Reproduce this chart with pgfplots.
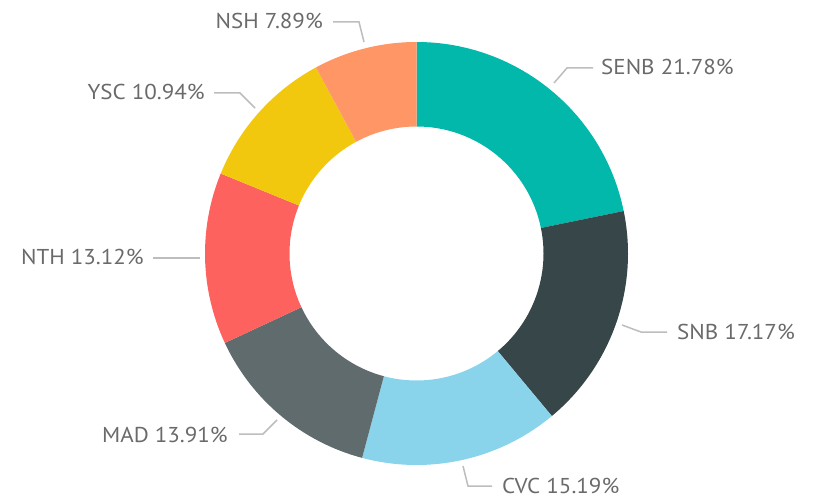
\documentclass[border=0pt]{standalone}
\usepackage{pgfplots}
\usepackage{pgfplotstable}
\usepackage{fontspec}
\setmainfont{PT Sans}[FakeStretch=1.07]
\pgfplotsset{compat=1.18}
\definecolor{c0}{HTML}{01B8AA}
\definecolor{c1}{HTML}{374649}
\definecolor{c2}{HTML}{8AD4EB}
\definecolor{c3}{HTML}{5F6B6D}
\definecolor{c4}{HTML}{FD625E}
\definecolor{c5}{HTML}{F2C80F}
\definecolor{c6}{HTML}{FE9666}
\definecolor{lbl}{HTML}{6A6A6A}
\definecolor{lead}{HTML}{BDBDBD}
\tikzset{lab/.style={font=\fontsize{21.5}{24}\selectfont, text=lbl, inner sep=0pt}}

\pgfplotstableread{
label value
SENB 21.78
SNB 17.17
CVC 15.19
MAD 13.91
NTH 13.12
YSC 10.94
NSH 7.89
}\slices

\begin{document}
\begin{tikzpicture}
\path[use as bounding box] (0,0) rectangle (826pt,499pt);
\def\cx{416.5}
\def\cy{245.5}
\def\Ro{211.5}
\def\Ri{127}
\def\cum{0}
\pgfplotsforeachungrouped \i in {0,...,6}{%
  \pgfplotstablegetelem{\i}{value}\of\slices
  \let\v\pgfplotsretval
  \pgfmathsetmacro\aS{90-3.6*\cum}%
  \pgfmathsetmacro\aE{90-3.6*(\cum+\v)}%
  \pgfmathsetmacro\cum{\cum+\v}%
  \pgfmathsetmacro\oxS{\cx+\Ro*cos(\aS)}%
  \pgfmathsetmacro\oyS{\cy+\Ro*sin(\aS)}%
  \pgfmathsetmacro\ixE{\cx+\Ri*cos(\aE)}%
  \pgfmathsetmacro\iyE{\cy+\Ri*sin(\aE)}%
  \expandafter\xdef\csname aS\i\endcsname{\aS}%
  \expandafter\xdef\csname aE\i\endcsname{\aE}%
  \expandafter\xdef\csname oxS\i\endcsname{\oxS}%
  \expandafter\xdef\csname oyS\i\endcsname{\oyS}%
  \expandafter\xdef\csname ixE\i\endcsname{\ixE}%
  \expandafter\xdef\csname iyE\i\endcsname{\iyE}%
}
\begin{axis}[at={(0pt,0pt)},anchor=south west,x=1pt,y=1pt,xmin=0,xmax=826,ymin=0,ymax=499,hide axis,clip=false]
\pgfplotsinvokeforeach{0,...,6}{
  \fill[c#1] (axis cs:\csname oxS#1\endcsname,\csname oyS#1\endcsname)
    arc[start angle=\csname aS#1\endcsname, end angle=\csname aE#1\endcsname, radius=\Ro pt]
    -- (axis cs:\csname ixE#1\endcsname,\csname iyE#1\endcsname)
    arc[start angle=\csname aE#1\endcsname, end angle=\csname aS#1\endcsname, radius=\Ri pt]
    -- cycle;
}
\begin{scope}[lead, line width=1.5pt]
\draw (axis cs:554,416) -- (axis cs:567,431) -- (axis cs:593,431);
\draw (axis cs:622,174) -- (axis cs:641,167) -- (axis cs:667,167);
\draw (axis cs:463,33) -- (axis cs:468,13) -- (axis cs:492,13);
\draw (axis cs:277,79) -- (axis cs:263,65) -- (axis cs:239,65);
\draw (axis cs:200,241) -- (axis cs:153,241);
\draw (axis cs:255,391) -- (axis cs:240,406) -- (axis cs:214,406);
\draw (axis cs:364,457) -- (axis cs:359,477) -- (axis cs:333,477);
\end{scope}
\node[lab,anchor=base west] at (axis cs:601,424.5) {SENB 21.78\%};
\node[lab,anchor=base west] at (axis cs:677,160) {SNB 17.17\%};
\node[lab,anchor=base west] at (axis cs:502,6) {CVC 15.19\%};
\node[lab,anchor=base east] at (axis cs:228,56.3) {MAD 13.91\%};
\node[lab,anchor=base east] at (axis cs:144,235) {NTH 13.12\%};
\node[lab,anchor=base east] at (axis cs:205,399) {YSC 10.94\%};
\node[lab,anchor=base east] at (axis cs:323,470.7) {NSH 7.89\%};
\end{axis}
\end{tikzpicture}
\end{document}
